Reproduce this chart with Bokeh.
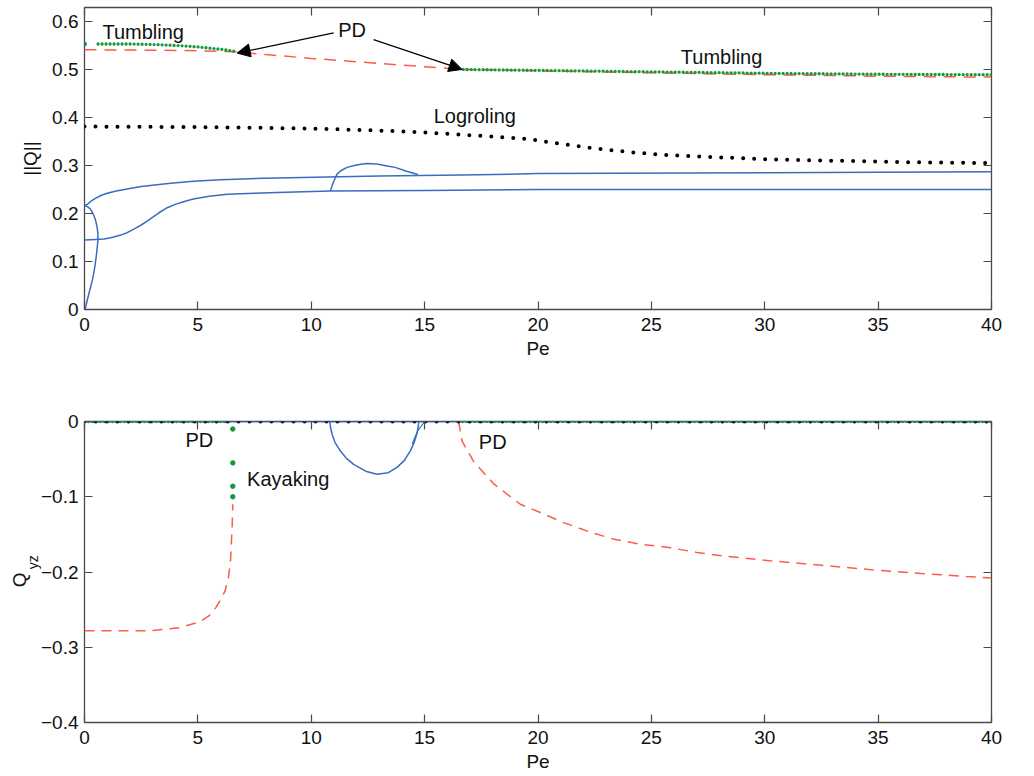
from bokeh.plotting import figure
from bokeh.models import (Range1d, LinearAxis, FixedTicker, CustomJSTickFormatter,
                          Label, Arrow, NormalHead)
from bokeh.layouts import column
from bokeh.embed import file_html
from bokeh.resources import INLINE

FONT = "Liberation Sans"

# ---------------- data ----------------
pe_ticks = [0, 5, 10, 15, 20, 25, 30, 35, 40]
q_ticks = [0, 0.1, 0.2, 0.3, 0.4, 0.5, 0.6]
qyz_ticks = [-0.4, -0.3, -0.2, -0.1, 0]

# top panel: ||Q||
tumb_a_pe = [0.6, 2.0, 3.0, 4.0, 5.0, 6.0, 6.6]
tumb_a_q = [0.553, 0.553, 0.552, 0.550, 0.547, 0.542, 0.538]
tumb_start_pe = [0.0]
tumb_start_q = [0.553]
tumb_b_pe = [16.7, 20, 25, 30, 35, 40]
tumb_b_q = [0.500, 0.498, 0.495, 0.492, 0.490, 0.489]

pd_top_pe = [0, 3, 5, 6.6, 8, 10, 12, 14, 16.7, 20, 25, 30, 35, 40]
pd_top_q = [0.541, 0.540, 0.539, 0.537, 0.531, 0.523, 0.516, 0.509, 0.500,
            0.497, 0.493, 0.489, 0.486, 0.484]

log_pe = [0, 5, 10, 12, 14, 16, 18, 19.6, 21, 22.6, 24.2, 25.6, 27, 30, 33, 36, 40]
log_q = [0.381, 0.380, 0.377, 0.374, 0.371, 0.366, 0.360, 0.355, 0.345, 0.335,
         0.327, 0.322, 0.319, 0.313, 0.310, 0.307, 0.305]

up_pe = [0, 0.12, 0.3, 0.5, 0.75, 1.0, 1.4, 1.88, 2.5, 3.0, 3.8, 4.8, 6.0, 7.0,
         8.5, 10.7, 13.0, 16.6, 20, 30, 40]
up_q = [0.217, 0.219, 0.226, 0.232, 0.238, 0.242, 0.247, 0.251, 0.256, 0.259,
        0.263, 0.267, 0.270, 0.272, 0.274, 0.276, 0.278, 0.280, 0.283, 0.285, 0.287]
low_pe = [0, 0.5, 0.85, 1.1, 1.29, 1.6, 1.88, 2.2, 2.5, 2.76, 3.0, 3.3, 3.65,
          4.0, 4.4, 4.8, 5.5, 6.3, 7.5, 8.5, 10.85, 15, 20, 30, 40]
low_q = [0.145, 0.146, 0.147, 0.149, 0.151, 0.155, 0.160, 0.168, 0.176, 0.184,
         0.192, 0.202, 0.212, 0.219, 0.225, 0.230, 0.236, 0.240, 0.242, 0.2435,
         0.247, 0.248, 0.250, 0.250, 0.250]
loop_pe = [0.0, 0.04, 0.15, 0.26, 0.37, 0.45, 0.53, 0.59, 0.59, 0.56, 0.51, 0.45,
           0.36, 0.26, 0.14, 0.04, 0.0]
loop_q = [0.0, 0.003, 0.025, 0.045, 0.066, 0.087, 0.115, 0.143, 0.158, 0.170,
          0.182, 0.191, 0.201, 0.209, 0.214, 0.216, 0.217]
bump_pe = [10.85, 10.9, 10.95, 11.05, 11.14, 11.3, 11.58, 11.9, 12.2, 12.46,
           12.9, 13.34, 13.7, 14.2, 14.7]
bump_q = [0.247, 0.255, 0.262, 0.273, 0.282, 0.289, 0.296, 0.300, 0.3025, 0.304,
          0.303, 0.299, 0.296, 0.288, 0.281]

# bottom panel: Q_yz
zero_pe = [0, 40]
zero_q = [0, 0]
tumb_c_pe = [0, 6.5]
tumb_c_q = [0, 0]
tumb_d_pe = [16.5, 40]
tumb_d_q = [0, 0]
kayak_pe = [6.54, 6.54, 6.54, 6.54]
kayak_q = [-0.010, -0.055, -0.086, -0.100]

bloop_pe = [10.82, 10.85, 10.92, 11.05, 11.28, 11.55, 11.87, 12.4, 12.9, 13.4,
            13.78, 14.1, 14.37, 14.55, 14.67, 14.75]
bloop_q = [0, -0.008, -0.017, -0.028, -0.039, -0.049, -0.057, -0.066, -0.070,
           -0.068, -0.061, -0.052, -0.039, -0.027, -0.015, 0.0]
bbranch_pe = [14.45, 14.7, 15.0]
bbranch_q = [-0.030, -0.012, 0.0]

pd_b1_pe = [0, 2.9, 4.2, 5.1, 5.5, 5.8, 6.0, 6.2, 6.35, 6.44, 6.51, 6.54]
pd_b1_q = [-0.278, -0.278, -0.274, -0.266, -0.258, -0.247, -0.237, -0.225,
           -0.207, -0.185, -0.141, -0.11]
pd_b2_pe = [16.5, 16.65, 17.16, 18.05, 19.22, 20.1, 21.1, 22.3, 23.3, 24.5, 25.7,
            27.0, 28.0, 30.2, 32.5, 34.7, 36.9, 38.9, 40]
pd_b2_q = [0, -0.026, -0.053, -0.083, -0.110, -0.121, -0.134, -0.147, -0.156,
           -0.163, -0.167, -0.174, -0.178, -0.185, -0.191, -0.197, -0.202,
           -0.206, -0.208]

# ---------------- styles ----------------
BLUE = "#3a6cc0"
RED = "#ff5a4c"
GREEN = "#17993a"
BLACK = "#000000"
FRAME = "#4a4a4a"
TICK_FS = "19px"
ANN_FS = "20px"
NBSP = "\u00a0"

fmt = CustomJSTickFormatter(code="""
    if (Math.abs(tick) < 1e-9) return '0';
    var s = (Math.round(tick * 10) / 10).toString();
    return s.replace('-', '\u2212');
""")


def style(p, yticks, xlabel):
    p.outline_line_color = FRAME
    p.outline_line_width = 1.3
    p.grid.visible = False
    for ax in (p.xaxis[0], p.yaxis[0]):
        ax.major_tick_in = 8
        ax.major_tick_out = 0
        ax.minor_tick_line_color = None
        ax.axis_line_color = None
        ax.major_tick_line_color = FRAME
        ax.major_tick_line_width = 1.2
        ax.major_label_text_font = FONT
        ax.major_label_text_font_size = TICK_FS
        ax.major_label_text_color = "#111111"
        ax.formatter = fmt
        ax.axis_label_text_font = FONT
        ax.axis_label_text_font_style = "normal"
        ax.axis_label_text_color = "#111111"
    p.xaxis[0].ticker = FixedTicker(ticks=pe_ticks)
    p.yaxis[0].ticker = FixedTicker(ticks=yticks)
    p.xaxis[0].major_label_standoff = 8
    p.yaxis[0].major_label_standoff = 6
    p.xaxis[0].axis_label = xlabel
    p.xaxis[0].axis_label_text_font_size = TICK_FS
    p.xaxis[0].axis_label_standoff = 4
    for loc, t in (("above", pe_ticks), ("right", yticks)):
        ax = LinearAxis(ticker=FixedTicker(ticks=t))
        ax.major_tick_in = 8
        ax.major_tick_out = 0
        ax.minor_tick_line_color = None
        ax.axis_line_color = None
        ax.major_tick_line_color = FRAME
        ax.major_tick_line_width = 1.2
        ax.major_label_text_font_size = "1px"
        ax.major_label_text_color = None
        ax.major_label_standoff = 0
        ax.formatter = fmt
        p.add_layout(ax, loc)


def lbl(p, x, y, text, align="left"):
    p.add_layout(Label(x=x, y=y, text=text, text_font=FONT, text_font_size=ANN_FS,
                       text_align=align, text_baseline="middle",
                       text_color="#111111"))


W = 1016
H1 = 362
H2 = 414

# ---------------- top figure ----------------
p1 = figure(width=W, height=H1, output_backend="svg", toolbar_location=None,
            x_range=Range1d(0, 40), y_range=Range1d(0, 0.629),
            min_border_left=84, min_border_right=25, min_border_top=7,
            min_border_bottom=53)
style(p1, q_ticks, "Pe")
p1.yaxis[0].axis_label = "||Q||"
p1.yaxis[0].axis_label_text_font_size = TICK_FS
p1.yaxis[0].axis_label_standoff = 8

for xs, ys in ((up_pe, up_q), (low_pe, low_q), (loop_pe, loop_q), (bump_pe, bump_q)):
    p1.line(xs, ys, line_color=BLUE, line_width=1.5, line_join="round")
p1.line(pd_top_pe, pd_top_q, line_color=RED, line_width=1.5, line_dash="12 8")
p1.line(log_pe, log_q, line_color=BLACK, line_width=4, line_dash="0 11",
        line_cap="round")
for xs, ys in ((tumb_a_pe, tumb_a_q), (tumb_b_pe, tumb_b_q)):
    p1.line(xs, ys, line_color=GREEN, line_width=3.3, line_dash="0 4", line_cap="round")
p1.scatter(tumb_start_pe, tumb_start_q, size=4, color=GREEN)

lbl(p1, 0.79, 0.577, "Tumbling")
lbl(p1, 11.8, 0.583, "PD", align="center")
lbl(p1, 26.3, 0.526, "Tumbling")
lbl(p1, 15.4, 0.404, "Logroling")

for (xs, ys, xe, ye) in ((10.99, 0.576, 6.73, 0.534), (12.75, 0.562, 16.65, 0.500)):
    p1.add_layout(Arrow(end=NormalHead(size=13, fill_color=BLACK, line_color=BLACK),
                        x_start=xs, y_start=ys, x_end=xe, y_end=ye,
                        line_color=BLACK, line_width=1.2))

# ---------------- bottom figure ----------------
p2 = figure(width=W, height=H2, output_backend="svg", toolbar_location=None,
            x_range=Range1d(0, 40), y_range=Range1d(-0.4, 0),
            min_border_left=84, min_border_right=25, min_border_top=59,
            min_border_bottom=54)
style(p2, qyz_ticks, "Pe")
# subscript part of the y label, next to the tick labels
p2.yaxis[0].axis_label = NBSP * 5 + "yz"
p2.yaxis[0].axis_label_text_font_size = "14px"
p2.yaxis[0].axis_label_standoff = -3
# main letter of the y label, on an outer axis without ticks
qax = LinearAxis(ticker=FixedTicker(ticks=[]), axis_label="Q" + NBSP * 3)
qax.axis_line_color = None
qax.major_tick_line_color = None
qax.minor_tick_line_color = None
qax.major_tick_out = 0
qax.major_label_standoff = 0
qax.axis_label_standoff = -8
qax.axis_label_text_font = FONT
qax.axis_label_text_font_size = TICK_FS
qax.axis_label_text_font_style = "normal"
qax.axis_label_text_color = "#111111"
p2.add_layout(qax, "left")

p2.line(zero_pe, zero_q, line_color=BLUE, line_width=1.5)
p2.line(bloop_pe, bloop_q, line_color=BLUE, line_width=1.5, line_join="round")
p2.line(bbranch_pe, bbranch_q, line_color=BLUE, line_width=1.2)
p2.line(pd_b1_pe, pd_b1_q, line_color=RED, line_width=1.5, line_dash="10 7")
p2.line(pd_b2_pe, pd_b2_q, line_color=RED, line_width=1.5, line_dash="10 7")
for xs, ys in ((tumb_c_pe, tumb_c_q), (tumb_d_pe, tumb_d_q)):
    p2.line(xs, ys, line_color=GREEN, line_width=3.3, line_dash="0 4", line_cap="round")
p2.line(zero_pe, zero_q, line_color="#101030", line_width=4, line_dash="0 11",
        line_cap="round")
p2.scatter(kayak_pe, kayak_q, size=4.5, color=GREEN)

lbl(p2, 4.45, -0.024, "PD")
lbl(p2, 7.17, -0.076, "Kayaking")
lbl(p2, 17.39, -0.027, "PD")

layout = column(p1, p2, spacing=0)
open("out.html", "w").write(file_html(layout, INLINE))
